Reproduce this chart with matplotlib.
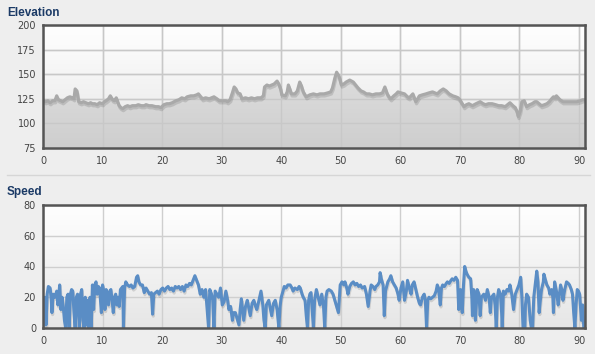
import numpy as np
import matplotlib
matplotlib.use("Agg")
import matplotlib.pyplot as plt
from matplotlib import patheffects as pe
from matplotlib.colors import LinearSegmentedColormap

# ---------------- data ----------------
elev_km = [0.0, 0.4, 0.8, 1.2, 1.6, 2.0, 2.3, 2.6, 3.0, 3.3, 3.7, 4.1, 4.5, 5.0, 5.2, 5.4, 5.7, 6.0, 6.4, 6.8,
           7.2, 7.6, 8.0, 8.3, 8.7, 9.1, 9.5, 10.0, 10.3, 10.6, 11.0, 11.3, 11.7, 12.0, 12.3, 12.6, 12.8, 13.1, 13.4, 13.8,
           14.2, 14.6, 15.0, 15.6, 16.0, 16.5, 17.0, 17.3, 17.8, 18.3, 18.9, 19.4, 19.8, 20.3, 20.8, 21.2, 21.7, 22.3, 22.8, 23.3,
           23.8, 24.2, 24.8, 25.3, 25.8, 26.1, 26.5, 26.8, 27.3, 27.9, 28.3, 28.7, 29.2, 29.6, 30.2, 30.7, 31.0, 31.4, 31.8, 32.1,
           32.4, 32.7, 33.1, 33.4, 34.0, 34.5, 35.0, 35.5, 36.0, 36.6, 37.0, 37.2, 37.6, 38.0, 38.4, 38.8, 39.3, 39.6, 39.9, 40.1,
           40.7, 41.0, 41.2, 41.5, 41.7, 42.3, 42.7, 43.1, 43.4, 43.7, 44.2, 44.8, 45.4, 46.0, 46.5, 47.2, 47.8, 48.3, 48.6, 49.0,
           49.3, 49.7, 50.1, 50.5, 50.9, 51.5, 52.1, 52.5, 52.9, 53.4, 53.8, 54.3, 54.8, 55.3, 55.9, 56.5, 57.0, 57.4, 57.8, 58.1,
           58.4, 58.9, 59.3, 59.6, 60.1, 60.7, 61.2, 61.5, 62.1, 62.6, 63.2, 63.7, 64.3, 64.8, 65.4, 65.8, 66.2, 66.7, 67.2, 67.7,
           68.2, 68.8, 69.3, 69.7, 70.0, 70.4, 70.7, 71.1, 71.5, 72.1, 72.7, 73.4, 73.9, 74.3, 74.8, 75.4, 76.0, 76.5, 77.0, 77.6,
           78.0, 78.4, 78.9, 79.3, 79.6, 79.8, 80.1, 80.4, 80.8, 81.2, 81.7, 82.1, 82.6, 82.9, 83.3, 83.7, 84.2, 84.6, 85.0, 85.4,
           85.7, 86.0, 86.2, 86.5, 86.8, 87.3, 87.8, 88.4, 89.0, 89.6, 90.2, 90.6, 91.0]
elev_m = [124, 122, 123, 121, 123, 123, 128, 124, 123, 122, 124, 126, 127, 126, 125, 135, 133, 122, 121, 122,
          121, 120, 121, 120, 120, 119, 121, 120, 122, 123, 125, 128, 124, 123, 126, 121, 118, 116, 115, 117,
          118, 117, 118, 118, 119, 118, 118, 119, 118, 118, 117, 117, 116, 119, 120, 120, 121, 123, 124, 126,
          125, 127, 128, 128, 129, 130, 127, 125, 126, 125, 126, 127, 125, 123, 123, 123, 122, 124, 131, 137,
          135, 131, 130, 125, 126, 125, 126, 125, 126, 126, 128, 137, 139, 138, 139, 140, 143, 140, 135, 129,
          128, 132, 139, 134, 130, 130, 133, 142, 138, 132, 127, 129, 130, 129, 130, 130, 131, 132, 136, 146,
          152, 148, 139, 140, 142, 144, 142, 139, 136, 133, 132, 130, 130, 129, 130, 130, 131, 137, 130, 127,
          125, 128, 130, 132, 131, 130, 127, 126, 130, 122, 128, 129, 130, 131, 132, 131, 130, 133, 135, 133,
          130, 128, 127, 126, 124, 120, 117, 119, 120, 118, 120, 122, 120, 119, 120, 120, 119, 118, 118, 117,
          119, 121, 118, 116, 112, 107, 112, 122, 123, 117, 119, 120, 122, 122, 120, 118, 119, 120, 122, 125,
          127, 126, 128, 126, 124, 122, 122, 122, 122, 122, 123, 124, 124]

speed_km = [0.0, 0.1, 0.3, 0.5, 0.7, 0.9, 1.2, 1.4, 1.5, 1.7, 2.0, 2.3, 2.5, 2.8, 3.0, 3.2, 3.4, 3.6, 3.8, 4.0,
            4.2, 4.4, 4.6, 4.8, 5.0, 5.2, 5.4, 5.6, 5.8, 6.0, 6.1, 6.3, 6.5, 6.7, 6.9, 7.1, 7.3, 7.5, 7.7, 7.9,
            8.1, 8.3, 8.5, 8.7, 8.9, 9.1, 9.3, 9.5, 9.7, 9.8, 10.0, 10.2, 10.4, 10.6, 10.8, 11.0, 11.2, 11.4, 11.6, 11.8,
            12.0, 12.2, 12.4, 12.6, 12.8, 13.0, 13.2, 13.4, 13.5, 13.7, 13.9, 14.2, 14.5, 14.8, 15.1, 15.4, 15.7, 15.9, 16.1, 16.4,
            16.7, 17.0, 17.3, 17.6, 17.9, 18.2, 18.4, 18.6, 18.9, 19.2, 19.5, 19.8, 20.1, 20.4, 20.7, 21.0, 21.3, 21.6, 21.9, 22.2,
            22.5, 22.8, 23.1, 23.4, 23.7, 24.0, 24.3, 24.6, 24.9, 25.2, 25.5, 25.8, 26.1, 26.4, 26.7, 27.0, 27.3, 27.6, 27.8, 28.0,
            28.3, 28.5, 28.7, 28.9, 29.2, 29.5, 29.8, 30.1, 30.4, 30.7, 31.0, 31.2, 31.5, 31.8, 32.0, 32.3, 32.6, 32.9, 33.1, 33.3,
            33.5, 33.7, 34.0, 34.3, 34.6, 34.8, 35.1, 35.4, 35.7, 35.9, 36.2, 36.6, 36.9, 37.1, 37.3, 37.5, 37.9, 38.2, 38.4, 38.7,
            39.0, 39.3, 39.6, 39.8, 40.0, 40.3, 40.5, 40.8, 41.1, 41.5, 41.8, 42.0, 42.3, 42.7, 43.0, 43.2, 43.5, 43.7, 44.0, 44.2,
            44.4, 44.6, 44.8, 45.0, 45.2, 45.4, 45.6, 45.9, 46.2, 46.5, 46.8, 47.1, 47.3, 47.5, 47.7, 48.0, 48.4, 48.7, 49.0, 49.3,
            49.6, 49.9, 50.2, 50.5, 50.7, 51.0, 51.2, 51.5, 51.8, 52.1, 52.4, 52.7, 53.0, 53.3, 53.6, 54.0, 54.3, 54.6, 54.9, 55.1,
            55.4, 55.7, 55.9, 56.2, 56.5, 56.6, 56.8, 57.1, 57.3, 57.5, 57.9, 58.2, 58.4, 58.7, 59.0, 59.3, 59.6, 59.8, 60.1, 60.4,
            60.7, 61.0, 61.2, 61.5, 61.8, 62.0, 62.3, 62.6, 62.9, 63.2, 63.4, 63.7, 64.0, 64.2, 64.4, 64.6, 64.8, 65.1, 65.4, 65.7,
            66.0, 66.2, 66.4, 66.7, 66.9, 67.1, 67.4, 67.7, 67.9, 68.2, 68.5, 68.7, 69.0, 69.3, 69.6, 69.8, 70.0, 70.1, 70.4, 70.6,
            70.8, 71.0, 71.2, 71.5, 71.8, 72.0, 72.1, 72.3, 72.5, 72.6, 72.8, 72.9, 73.2, 73.4, 73.6, 74.0, 74.3, 74.6, 74.9, 75.1,
            75.3, 75.7, 75.9, 76.1, 76.3, 76.5, 76.8, 77.0, 77.1, 77.3, 77.6, 77.9, 78.2, 78.4, 78.7, 79.0, 79.3, 79.6, 79.9, 80.2,
            80.4, 80.6, 80.9, 81.0, 81.2, 81.5, 81.8, 82.0, 82.2, 82.4, 82.7, 82.9, 83.1, 83.3, 83.5, 83.7, 84.0, 84.1, 84.3, 84.6,
            84.9, 85.1, 85.4, 85.6, 85.7, 85.9, 86.2, 86.5, 86.7, 86.9, 87.1, 87.3, 87.6, 87.9, 88.2, 88.4, 88.7, 88.9, 89.1, 89.3,
            89.5, 89.7, 89.9, 90.1, 90.3, 90.4, 90.6, 90.7, 90.8]
speed_kmh = [0, 18, 20, 2, 22, 27, 26, 18, 10, 22, 20, 24, 15, 28, 12, 20, 14, 5, 0, 20,
             22, 0, 22, 25, 24, 10, 0, 20, 22, 8, 0, 22, 25, 5, 0, 20, 2, 18, 0, 20,
             0, 28, 12, 28, 30, 22, 27, 26, 15, 10, 28, 24, 12, 25, 22, 15, 24, 25, 18, 10,
             20, 22, 15, 20, 14, 25, 26, 27, 0, 26, 30, 28, 27, 28, 26, 27, 33, 34, 30, 28,
             28, 23, 26, 24, 22, 23, 9, 22, 23, 24, 22, 25, 26, 24, 26, 27, 25, 26, 24, 27,
             26, 27, 25, 27, 24, 28, 27, 29, 28, 31, 34, 31, 28, 22, 25, 20, 25, 10, 0, 25,
             22, 18, 0, 24, 22, 20, 26, 15, 17, 24, 18, 12, 14, 5, 10, 10, 6, 2, 12, 19,
             12, 5, 14, 18, 12, 8, 16, 18, 14, 12, 17, 24, 15, 5, 0, 15, 18, 12, 8, 16,
             18, 12, 0, 14, 20, 24, 27, 26, 28, 28, 26, 24, 26, 25, 27, 26, 22, 20, 18, 8,
             0, 18, 22, 23, 12, 0, 18, 25, 20, 15, 22, 14, 0, 20, 24, 25, 24, 22, 18, 14,
             10, 28, 30, 28, 30, 26, 22, 27, 29, 30, 28, 29, 27, 28, 26, 27, 22, 14, 24, 28,
             27, 25, 27, 28, 30, 36, 32, 28, 8, 24, 30, 32, 34, 30, 28, 26, 22, 18, 26, 30,
             18, 24, 31, 26, 22, 28, 30, 25, 20, 16, 15, 20, 22, 18, 0, 18, 20, 19, 20, 21,
             24, 28, 26, 15, 26, 28, 27, 29, 30, 29, 31, 32, 31, 33, 31, 12, 22, 25, 10, 28,
             40, 37, 35, 33, 32, 20, 8, 25, 20, 5, 18, 25, 22, 8, 20, 22, 18, 25, 20, 10,
             20, 22, 15, 0, 20, 25, 22, 10, 0, 24, 22, 25, 24, 28, 22, 12, 22, 25, 28, 33,
             20, 0, 0, 15, 22, 20, 5, 0, 0, 20, 30, 37, 30, 10, 18, 25, 30, 35, 32, 28,
             26, 22, 25, 20, 10, 30, 24, 15, 22, 28, 25, 18, 25, 30, 29, 28, 25, 22, 10, 0,
             15, 25, 24, 22, 10, 5, 15, 8, 0]

x_ticks = [0, 10, 20, 30, 40, 50, 60, 70, 80, 90]
elev_ticks = [75, 100, 125, 150, 175, 200]
speed_ticks = [0, 20, 40, 60, 80]

# ---------------- figure ----------------
W, H = 595, 354
fig = plt.figure(figsize=(W / 100, H / 100), dpi=100)
fig.patch.set_facecolor("#eeeeee")

title_color = "#1b3a66"
frame_color = "#555555"
grid_color = "#cfcfcf"
tick_color = "#444444"

bg_cmap = LinearSegmentedColormap.from_list("bg", ["#e6e6e6", "#ffffff"])
fill_cmap = LinearSegmentedColormap.from_list("fill", ["#cecece", "#dedede"])
grad = np.linspace(0, 1, 256).reshape(-1, 1)


def ax_rect(left, top, right, bottom):
    return [left / W, 1 - bottom / H, (right - left) / W, (bottom - top) / H]


def style(ax, ylim, yticks):
    ax.set_xlim(0, 91)
    ax.set_ylim(*ylim)
    ax.imshow(grad, extent=[0, 1, 0, 1], transform=ax.transAxes, cmap=bg_cmap,
              aspect="auto", origin="lower", zorder=0)
    ax.set_xticks(x_ticks)
    ax.set_yticks(yticks)
    ax.grid(True, color=grid_color, linewidth=1.0, zorder=1)
    ax.set_axisbelow(True)
    ax.tick_params(length=0, labelsize=7, colors=tick_color)
    ax.tick_params(axis="y", pad=5)
    ax.tick_params(axis="x", pad=6)
    for s in ax.spines.values():
        s.set_color(frame_color)
        s.set_linewidth(1.8)
        s.set_zorder(10)


# Elevation
ax1 = fig.add_axes(ax_rect(43, 25, 585, 148))
style(ax1, (75, 200), elev_ticks)
poly = ax1.fill_between(elev_km, elev_m, 75, facecolor="none", edgecolor="none", zorder=2)
im = ax1.imshow(grad, extent=[0, 91, 75, 155], cmap=fill_cmap, aspect="auto",
                origin="lower", zorder=2)
im.set_clip_path(poly.get_paths()[0], transform=ax1.transData)
ax1.set_xlim(0, 91)
ax1.set_ylim(75, 200)
ax1.plot(elev_km, elev_m, color="#a9a9a9", linewidth=2.3, zorder=4, solid_joinstyle="round",
         path_effects=[pe.SimpleLineShadow(offset=(0.5, -1.5), shadow_color="#000000", alpha=0.12),
                       pe.Normal()])
for xv in x_ticks[1:]:
    ax1.axvline(xv, color="#c8c8c8", linewidth=1.0, zorder=3)
for yv in elev_ticks[1:-1]:
    ax1.axhline(yv, color="#c8c8c8", linewidth=1.0, zorder=3)

# Speed
ax2 = fig.add_axes(ax_rect(43, 205, 585, 328))
style(ax2, (0, 80), speed_ticks)
ax2.plot(speed_km, speed_kmh, color="#5a8dc5", linewidth=2.2, zorder=4, solid_joinstyle="round",
         path_effects=[pe.SimpleLineShadow(offset=(0.5, -1.5), shadow_color="#000000", alpha=0.12),
                       pe.Normal()])

# Titles
fig.text(7 / W, 1 - 16 / H, "Elevation", fontsize=8.5, fontweight="bold", color=title_color,
         family=["Liberation Sans", "DejaVu Sans"], ha="left", va="baseline")
fig.text(7 / W, 1 - 195 / H, "Speed", fontsize=8.5, fontweight="bold", color=title_color,
         family=["Liberation Sans", "DejaVu Sans"], ha="left", va="baseline")

# Separator line
fig.add_artist(plt.Line2D([7 / W, 590 / W], [1 - 175 / H, 1 - 175 / H], color="#d6d6d6",
                          linewidth=1.0, transform=fig.transFigure))

fig.savefig("out.png", dpi=100, facecolor=fig.get_facecolor())
